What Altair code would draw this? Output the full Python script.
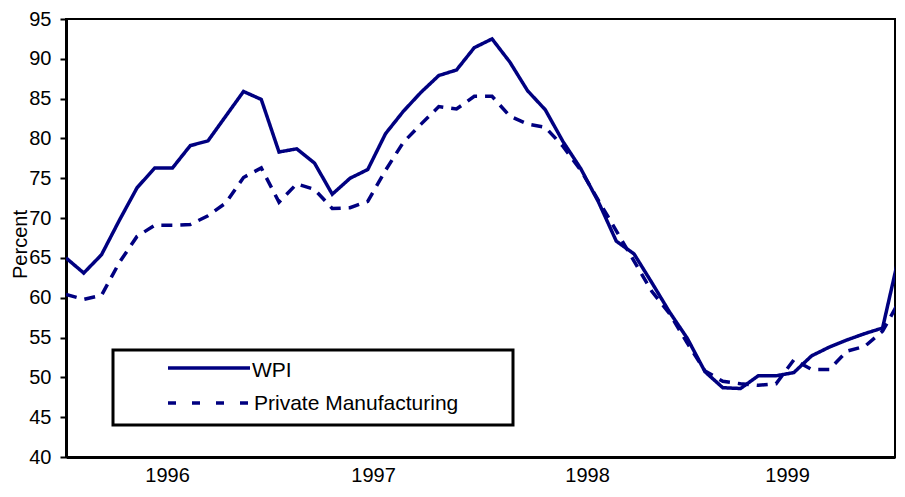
import altair as alt
import pandas as pd

# ---------------- data ----------------
series_names = ["WPI", "Private Manufacturing"]
period = list(range(48))
wpi = [65.0, 63.1, 65.4, 69.7, 73.8, 76.3, 76.3, 79.1, 79.7, 82.8,
       85.9, 84.9, 78.3, 78.7, 76.9, 73.0, 75.0, 76.1, 80.6, 83.4,
       85.8, 87.9, 88.6, 91.4, 92.5, 89.6, 86.0, 83.6, 79.6, 76.2,
       72.0, 67.1, 65.5, 61.9, 58.2, 54.9, 50.7, 48.7, 48.6, 50.2,
       50.2, 50.6, 52.7, 53.8, 54.7, 55.5, 56.2, 66.0]
private_mfg = [60.4, 59.8, 60.3, 64.4, 67.7, 69.1, 69.1, 69.2, 70.3, 71.9,
               75.1, 76.3, 72.0, 74.3, 73.6, 71.2, 71.3, 72.1, 76.0, 79.5,
               81.8, 84.0, 83.7, 85.3, 85.3, 82.8, 81.8, 81.4, 79.0, 76.0,
               72.2, 68.4, 64.6, 60.8, 58.0, 54.3, 50.8, 49.5, 49.2, 49.0,
               49.2, 52.2, 51.0, 51.0, 53.3, 53.9, 55.8, 59.8]
year_labels = ["1996", "1997", "1998", "1999"]
year_pos = [5.69, 17.3, 29.35, 40.62]
y_ticks = [40, 45, 50, 55, 60, 65, 70, 75, 80, 85, 90, 95]

df = pd.DataFrame({
    "period": period * 2,
    "value": wpi + private_mfg,
    "series": [series_names[0]] * len(period) + [series_names[1]] * len(period),
})

NAVY = "#000080"
FONT = "Liberation Sans"

label_expr = "[" + ",".join("'%s'" % s for s in year_labels) + "][indexof([" + \
    ",".join(str(p) for p in year_pos) + "], datum.value)]"

lines = alt.Chart(df).mark_line(clip=True, strokeWidth=3.5, color=NAVY).encode(
    x=alt.X("period:Q",
            scale=alt.Scale(domain=[0, 46.7], nice=False, zero=False),
            axis=alt.Axis(values=year_pos, labelExpr=label_expr, ticks=False,
                          grid=False, title=None, labelFont=FONT, labelFontSize=20,
                          labelColor="black", labelPadding=8, domainColor="black",
                          domainWidth=3, labelFlush=False, labelOverlap=False)),
    y=alt.Y("value:Q",
            scale=alt.Scale(domain=[40, 95], nice=False, zero=False),
            axis=alt.Axis(values=y_ticks, grid=False, title="Percent",
                          titleFont=FONT, titleFontSize=20, titleFontWeight="normal",
                          titleColor="black", titleAngle=270, titleX=-40, titleY=225,
                          titleAlign="center", titleBaseline="alphabetic",
                          labelFont=FONT, labelFontSize=20, labelColor="black",
                          labelPadding=9, tickSize=6, tickColor="black", tickWidth=2,
                          domainColor="black", domainWidth=3)),
    strokeDash=alt.StrokeDash("series:N",
                              scale=alt.Scale(domain=series_names, range=[[1, 0], [11, 8]]),
                              legend=None),
)

one = pd.DataFrame({"k": [0]})
legend_box = alt.Chart(one).mark_rect(fill="white", stroke="black", strokeWidth=3).encode(
    x=alt.value(47), x2=alt.value(447), y=alt.value(331), y2=alt.value(406))
leg_line1 = alt.Chart(one).mark_rule(color=NAVY, strokeWidth=3.5).encode(
    x=alt.value(102), x2=alt.value(184), y=alt.value(349))
leg_line2 = alt.Chart(one).mark_rule(color=NAVY, strokeWidth=3.5, strokeDash=[8, 16]).encode(
    x=alt.value(102), x2=alt.value(184), y=alt.value(384))
leg_text1 = alt.Chart(one).mark_text(align="left", baseline="alphabetic", font=FONT,
                                     fontSize=21, color="black").encode(
    x=alt.value(186), y=alt.value(357.5), text=alt.value(series_names[0]))
leg_text2 = alt.Chart(one).mark_text(align="left", baseline="alphabetic", font=FONT,
                                     fontSize=21, color="black").encode(
    x=alt.value(188), y=alt.value(391), text=alt.value(series_names[1]))

chart = alt.layer(lines, legend_box, leg_line1, leg_line2, leg_text1, leg_text2).properties(
    width=829, height=438,
    autosize=alt.AutoSizeParams(type="none"),
    padding={"left": 58, "top": 11, "right": 2, "bottom": 30},
).configure_view(stroke="black", strokeWidth=2)

chart.save("out.html", embed_options={"renderer": "svg", "actions": False})
